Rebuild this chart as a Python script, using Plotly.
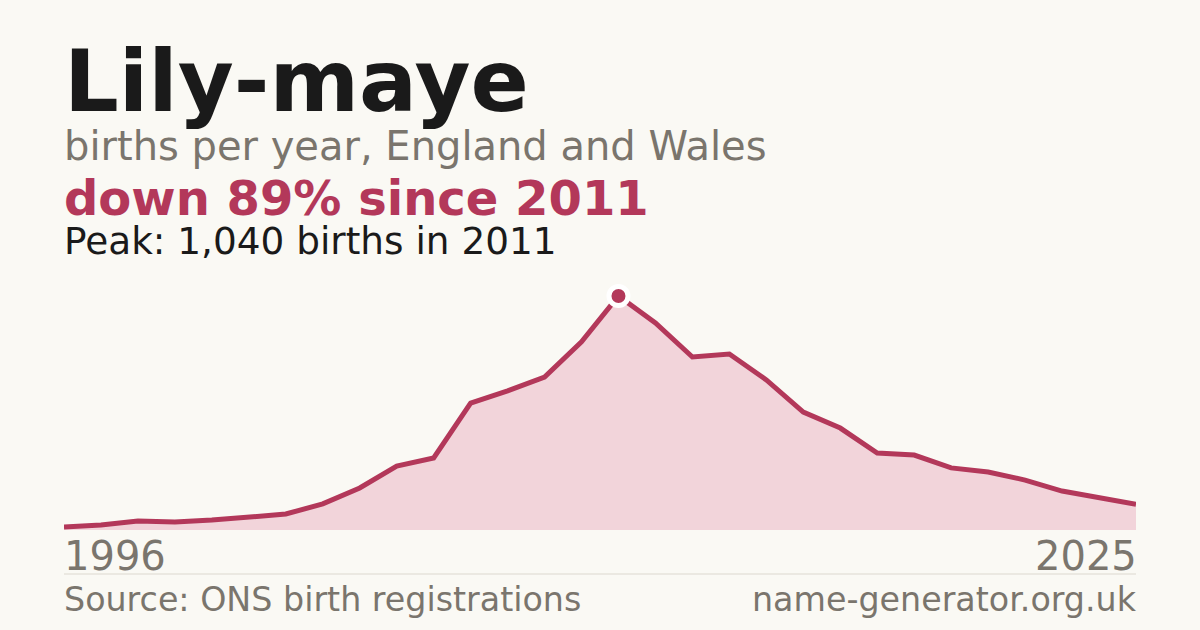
'''Area chart of yearly births for the name Lily-maye'''
import plotly.graph_objects as go

# Data
years = list(range(1996, 2026))
births = [13, 22, 40, 36, 44, 58, 71, 116, 187, 284,
          320, 564, 618, 680, 836, 1040, 920, 769, 782, 667,
          524, 453, 342, 333, 276, 258, 222, 173, 142, 114]

name = "Lily-maye"
subtitle = "births per year, England and Wales"
source = "Source: ONS birth registrations"
site = "name-generator.org.uk"

BG = "#faf9f4"
RED = "#b3385a"
FILL = "#f2d4da"
GREY = "#7a756d"
INK = "#1a1a1a"
FONT = "DejaVu Sans"

W, H = 1200, 630
PLOT_LEFT, PLOT_RIGHT = 64, 1136
PLOT_TOP, PLOT_BOTTOM = 280, 530


def px(pixel_x):
    # pixel column -> paper x coordinate
    return (pixel_x - PLOT_LEFT) / (PLOT_RIGHT - PLOT_LEFT)


def py(pixel_y):
    # pixel row -> paper y coordinate
    return (PLOT_BOTTOM - pixel_y) / (PLOT_BOTTOM - PLOT_TOP)


def main():
    peak = max(births)
    peak_year = years[births.index(peak)]
    change = round((births[-1] - peak) / peak * 100)
    # peak sits at pixel row 296
    y_max = peak * (PLOT_BOTTOM - PLOT_TOP) / (PLOT_BOTTOM - 296)

    fig = go.Figure()
    fig.add_trace(go.Scatter(
        x=years, y=births, mode="lines", fill="tozeroy",
        fillcolor=FILL, line=dict(color=RED, width=5),
        hoverinfo="skip",
    ))
    fig.add_trace(go.Scatter(
        x=[peak_year], y=[peak], mode="markers", cliponaxis=False,
        marker=dict(size=19, color=RED, line=dict(color="white", width=5)),
        hoverinfo="skip",
    ))

    def note(text, y, size, color, bold=False, right=False):
        if bold:
            text = f"<b>{text}</b>"
        fig.add_annotation(
            text=text, x=px(1139) if right else px(62), y=py(y),
            xref="paper", yref="paper",
            xanchor="right" if right else "left", yanchor="middle",
            showarrow=False,
            font=dict(family=FONT, size=size, color=color),
        )

    note(name, 81, 86, INK, bold=True)
    note(subtitle, 146, 40, GREY)
    note(f"down {abs(change)}% since {peak_year}", 198, 48, RED, bold=True)
    note(f"Peak: {peak:,} births in {peak_year}", 241, 37.4, INK)
    note(str(years[0]), 556, 40, GREY)
    note(str(years[-1]), 556, 40, GREY, right=True)
    note(source, 599, 33.3, GREY)
    note(site, 599, 33.3, GREY, right=True)

    fig.add_shape(type="line", xref="paper", yref="paper",
                  x0=0, x1=1, y0=py(574), y1=py(574),
                  line=dict(color="#dcd8cf", width=1))

    fig.update_layout(
        width=W, height=H,
        margin=dict(l=PLOT_LEFT, r=W - PLOT_RIGHT, t=PLOT_TOP,
                    b=H - PLOT_BOTTOM),
        paper_bgcolor=BG, plot_bgcolor=BG,
        showlegend=False,
    )
    fig.update_xaxes(range=[years[0], years[-1]], visible=False)
    fig.update_yaxes(range=[0, y_max], visible=False)

    # drop the page's default body margin so the figure fills the window
    fig.write_html(
        "out.html",
        config={"displayModeBar": False},
        post_script=f"document.body.style.margin='0';"
                    f"document.body.style.background='{BG}';",
    )


if __name__ == "__main__":
    main()
